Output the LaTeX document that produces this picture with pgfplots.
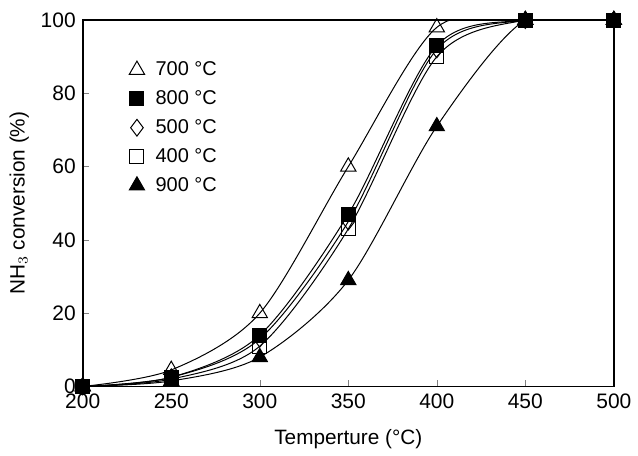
\documentclass[border={1.5pt 0pt 0pt 3pt}]{standalone}
\usepackage{fontspec}
\setmainfont{Liberation Sans}
\usepackage{pgfplots}
\pgfplotsset{compat=1.18}

\begin{document}
\begin{tikzpicture}
\begin{axis}[width=266pt, height=183.5pt, scale only axis,
  xmin=200, xmax=500, ymin=0, ymax=100,
  xtick={200,250,...,500}, ytick={0,20,...,100},
  tick align=inside, xtick pos=bottom, ytick pos=left,
  major tick length=3pt,
  tick label style={font=\fontsize{10.5}{12}\selectfont},
  /pgf/number format/assume math mode=true,
  xlabel={Temperture (°C)}, ylabel={NH$_3$ conversion (\%)},
  label style={font=\fontsize{10.4}{12}\selectfont},
  xlabel style={yshift=-3.5pt}, ylabel style={yshift=-1pt},
  axis line style={line width=0.8pt},
  clip mode=individual,
  legend style={at={(0.057,0.91)}, anchor=north west, draw=none, fill=none,
    font=\fontsize{10}{11}\selectfont, row sep=2pt},
  legend cell align=left,
  legend image code/.code={\path (0cm,0cm) (0.55cm,0cm);
    \draw[#1,only marks] plot coordinates {(0.3cm,0cm)};},
  every axis plot/.append style={black, line width=0.5pt, smooth, tension=0.5}]
\addplot[mark=triangle, mark options={fill=white, mark size=4.4pt}] coordinates {(200,0) (250,4.5) (300,20) (350,60) (400,98) (450,100) (500,100)};
\addlegendentry{700 °C}
\addplot[mark=square*, mark options={mark size=3.5pt}] coordinates {(200,0) (250,2.5) (300,14) (350,47) (400,93) (450,100) (500,100)};
\addlegendentry{800 °C}
\addplot[mark=diamond, mark options={fill=white, mark size=4.2pt}] coordinates {(200,0) (250,2.5) (300,13) (350,45) (400,92) (450,100) (500,100)};
\addlegendentry{500 °C}
\addplot[mark=square, mark options={fill=white, mark size=3.5pt}] coordinates {(200,0) (250,2) (300,11) (350,43) (400,90) (450,100) (500,100)};
\addlegendentry{400 °C}
\addplot[mark=triangle*, mark options={mark size=4.4pt}] coordinates {(200,0) (250,1.5) (300,8) (350,29) (400,71) (450,100) (500,100)};
\addlegendentry{900 °C}
\end{axis}
\end{tikzpicture}
\end{document}
